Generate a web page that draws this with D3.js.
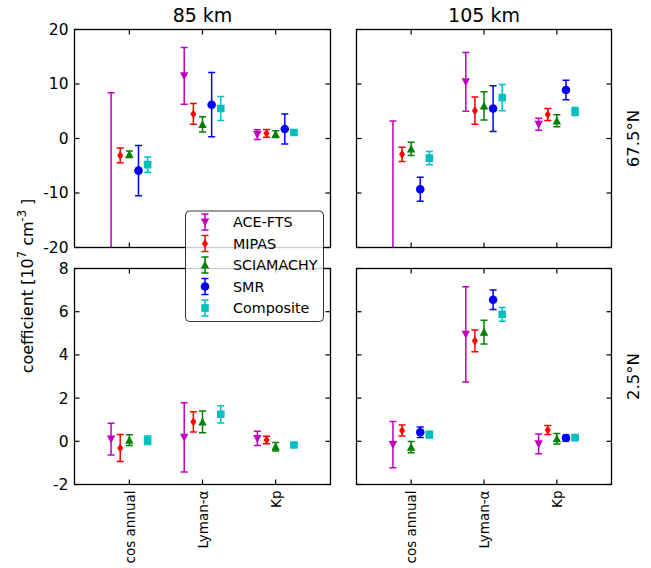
<!DOCTYPE html>
<html><head><meta charset="utf-8">
<script src="https://cdn.jsdelivr.net/npm/d3@7"></script>
<style>body{margin:0;background:#fff;} text{font-family:"DejaVu Sans",sans-serif;}</style>
</head><body><svg id="c" width="651" height="568"></svg>
<script>
const categories = ["cos annual", "Lyman-α", "Kp"];
const series = ["ACE-FTS", "MIPAS", "SCIAMACHY", "SMR", "Composite"];
const altitudes = ["85 km", "105 km"];
const latitudes = ["67.5°N", "2.5°N"];
const yTicksTop = [-20, -10, 0, 10, 20];
const yTicksBottom = [-2, 0, 2, 4, 6, 8];

// mean[series][category], err[series][category]
const mean_67N_85km = [[-30, 11.5, 0.7], [-3.1, 4.5, 0.95], [-2.9, 2.6, 0.8], [-5.9, 6.2, 1.75], [-4.8, 5.5, 1.1]];
const err_67N_85km  = [[38.4, 5.2, 0.9], [1.35, 1.9, 0.7], [0.6, 1.4, 0.6], [4.6, 5.9, 2.75], [1.4, 2.2, 0.4]];
const mean_67N_105km = [[-30, 10.4, 2.6], [-2.9, 5.1, 4.4], [-1.9, 6.0, 3.25], [-9.3, 5.5, 8.9], [-3.6, 7.5, 4.95]];
const err_67N_105km  = [[33.2, 5.4, 1.1], [1.3, 2.5, 1.1], [1.2, 2.6, 1.1], [2.2, 4.2, 1.8], [1.2, 2.4, 0.75]];
const mean_2N_85km = [[0.1, 0.18, 0.13], [-0.31, 0.9, 0.06], [0.05, 0.9, -0.25], null, [0.05, 1.25, -0.17]];
const err_2N_85km  = [[0.74, 1.6, 0.33], [0.62, 0.47, 0.17], [0.25, 0.5, 0.2], null, [0.2, 0.4, 0.1]];
const mean_2N_105km = [[-0.15, 4.95, -0.12], [0.5, 4.65, 0.52], [-0.27, 5.05, 0.12], [0.42, 6.55, 0.15], [0.31, 5.88, 0.17]];
const err_2N_105km  = [[1.07, 2.2, 0.46], [0.25, 0.5, 0.21], [0.26, 0.55, 0.24], [0.24, 0.45, 0.14], [0.15, 0.32, 0.1]];

// styles
const colors = ["#bf00bf", "#ff0000", "#008000", "#0000ff", "#00bfbf"];
const markers = [
  "M-4.2,-3.6L4.2,-3.6L0,4.4Z",
  "M0,-4.6L3,0L0,4.6L-3,0Z",
  "M0,-4.4L4.2,3.6L-4.2,3.6Z",
  "M4.3,0A4.3,4.3 0 1,1 -4.3,0A4.3,4.3 0 1,1 4.3,0Z",
  "M-3.8,-3.8L3.8,-3.8L3.8,3.8L-3.8,3.8Z"
];
const offsets = [-0.25, -0.125, 0, 0.125, 0.25];

const svg = d3.select("#c");
const colX = [[74.5, 330.5], [356.5, 611.5]];
const rowY = [[29.5, 247.5], [268.5, 484.5]];
const panels = [
  {r: 0, c: 0, m: mean_67N_85km, e: err_67N_85km},
  {r: 0, c: 1, m: mean_67N_105km, e: err_67N_105km},
  {r: 1, c: 0, m: mean_2N_85km, e: err_2N_85km},
  {r: 1, c: 1, m: mean_2N_105km, e: err_2N_105km}
];
const yDomains = [[-20, 20], [-2, 8]];
const yTickSets = [yTicksTop, yTicksBottom];
const TL = 5;

panels.forEach((p, pi) => {
  const x = d3.scaleLinear().domain([-0.75, 2.75]).range(colX[p.c]);
  const y = d3.scaleLinear().domain(yDomains[p.r]).range([rowY[p.r][1], rowY[p.r][0]]);
  const g = svg.append("g");
  const cid = "clip" + pi;
  svg.append("clipPath").attr("id", cid).append("rect")
    .attr("x", colX[p.c][0]).attr("y", rowY[p.r][0])
    .attr("width", colX[p.c][1] - colX[p.c][0]).attr("height", rowY[p.r][1] - rowY[p.r][0]);

  // ticks inside on all four sides
  const ax = g.append("g");
  const xt = [0, 1, 2];
  xt.forEach(t => {
    ax.append("line").attr("x1", x(t)).attr("x2", x(t)).attr("y1", rowY[p.r][1]).attr("y2", rowY[p.r][1] - TL).attr("stroke", "#000").attr("stroke-width", 1.2);
    ax.append("line").attr("x1", x(t)).attr("x2", x(t)).attr("y1", rowY[p.r][0]).attr("y2", rowY[p.r][0] + TL).attr("stroke", "#000").attr("stroke-width", 1.2);
  });
  yTickSets[p.r].forEach(t => {
    ax.append("line").attr("x1", colX[p.c][0]).attr("x2", colX[p.c][0] + TL).attr("y1", y(t)).attr("y2", y(t)).attr("stroke", "#000").attr("stroke-width", 1.2);
    ax.append("line").attr("x1", colX[p.c][1]).attr("x2", colX[p.c][1] - TL).attr("y1", y(t)).attr("y2", y(t)).attr("stroke", "#000").attr("stroke-width", 1.2);
  });
  if (p.c === 0) {
    const ya = d3.axisLeft(y).tickValues(yTickSets[p.r]).tickSize(0).tickPadding(6).tickFormat(d3.format("d"));
    const yg = svg.append("g").attr("transform", `translate(${colX[p.c][0]},0)`).call(ya);
    yg.select(".domain").remove();
    yg.selectAll("text").attr("font-size", 15.5).attr("fill", "#000").attr("font-family", "DejaVu Sans")
      .text(d => d < 0 ? "-" + Math.abs(d) : d);
  }
  if (p.r === 1) {
    const xa = d3.axisBottom(x).tickValues([0, 1, 2]).tickSize(0).tickFormat(i => categories[i]);
    const xg = svg.append("g").attr("transform", `translate(0,${rowY[p.r][1]})`).call(xa);
    xg.select(".domain").remove();
    xg.selectAll("text").attr("font-size", 13.5).attr("fill", "#000").attr("font-family", "DejaVu Sans")
      .attr("text-anchor", "end").attr("transform", "rotate(-90)")
      .attr("x", -6).attr("y", 0).attr("dy", "0.35em");
  }
  if (p.r === 0) {
    svg.append("text").attr("x", (colX[p.c][0] + colX[p.c][1]) / 2).attr("y", 22)
      .attr("text-anchor", "middle").attr("font-size", 19).text(altitudes[p.c]);
  }
  if (p.c === 1) {
    const cy = (rowY[p.r][0] + rowY[p.r][1]) / 2;
    svg.append("text").attr("transform", `translate(639,${cy}) rotate(-90)`)
      .attr("text-anchor", "middle").attr("font-size", 16.5).text(latitudes[p.r]);
  }

  // data
  const dg = g.append("g").attr("clip-path", `url(#${cid})`);
  series.forEach((s, si) => {
    if (!p.m[si]) return;
    categories.forEach((cat, ci) => {
      const v = p.m[si][ci], e = p.e[si][ci];
      const px = x(ci + offsets[si]);
      const sg = dg.append("g").attr("stroke", colors[si]).attr("stroke-width", 1.5);
      sg.append("line").attr("x1", px).attr("x2", px).attr("y1", y(v - e)).attr("y2", y(v + e));
      [v - e, v + e].forEach(b => sg.append("line").attr("x1", px - 3.5).attr("x2", px + 3.5).attr("y1", y(b)).attr("y2", y(b)));
      dg.append("path").attr("d", markers[si]).attr("transform", `translate(${px},${y(v)})`)
        .attr("fill", colors[si]).attr("stroke", "none");
    });
  });

  // frame
  g.append("rect").attr("x", colX[p.c][0]).attr("y", rowY[p.r][0])
    .attr("width", colX[p.c][1] - colX[p.c][0]).attr("height", rowY[p.r][1] - rowY[p.r][0])
    .attr("fill", "none").attr("stroke", "#000").attr("stroke-width", 1.3);
});

// y label
const yl = svg.append("text").attr("transform", "translate(33,286) rotate(-90)")
  .attr("text-anchor", "middle").attr("font-size", 16);
yl.append("tspan").text("coefficient [10");
yl.append("tspan").attr("font-size", 11.5).attr("dy", -7).text("7");
yl.append("tspan").attr("dy", 7).text(" cm");
yl.append("tspan").attr("font-size", 11.5).attr("dy", -7).text("-3");
yl.append("tspan").attr("dy", 7).text(" ]");

// legend
const lg = svg.append("g");
lg.append("rect").attr("x", 185.5).attr("y", 211).attr("width", 138).attr("height", 110.5).attr("rx", 4)
  .attr("fill", "#fff").attr("fill-opacity", 0.8).attr("stroke", "#000").attr("stroke-opacity", 0.8).attr("stroke-width", 1);
series.forEach((s, si) => {
  const ly = 222 + si * 21.5;
  const sg = lg.append("g").attr("stroke", colors[si]).attr("stroke-width", 1.5);
  sg.append("line").attr("x1", 205).attr("x2", 205).attr("y1", ly - 8).attr("y2", ly + 8);
  [ly - 8, ly + 8].forEach(b => sg.append("line").attr("x1", 201.5).attr("x2", 208.5).attr("y1", b).attr("y2", b));
  lg.append("path").attr("d", markers[si]).attr("transform", `translate(205,${ly})`).attr("fill", colors[si]);
  lg.append("text").attr("x", 233).attr("y", ly + 5).attr("font-size", 14.3).text(s);
});
</script></body></html>
